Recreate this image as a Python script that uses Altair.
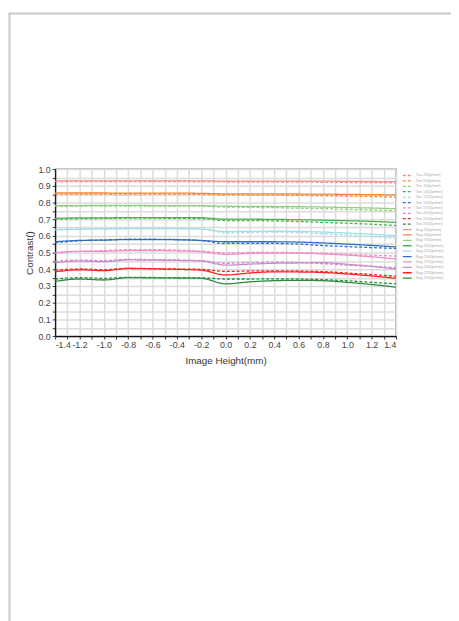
import altair as alt
import pandas as pd

# Image height positions (mm)
heights = [-1.4, -1.2, -1.0, -0.8, -0.6, -0.4, -0.2, 0.0, 0.2, 0.4, 0.6, 0.8, 1.0, 1.2, 1.4]

freqs = [20, 50, 70, 100, 125, 150, 175, 200, 225, 250]
colors = ["#f28e8e", "#f5883a", "#8fd07f", "#4cb050", "#9fdde8",
          "#2e6fbf", "#f08cc8", "#cc88cc", "#ff2020", "#2e8b3e"]

tan_20 = [0.925, 0.925, 0.925, 0.925, 0.925, 0.925, 0.924, 0.923, 0.922, 0.922, 0.922, 0.921, 0.920, 0.919, 0.918]
tan_50 = [0.850, 0.851, 0.851, 0.851, 0.851, 0.850, 0.849, 0.846, 0.845, 0.844, 0.843, 0.841, 0.839, 0.836, 0.832]
tan_70 = [0.777, 0.778, 0.779, 0.779, 0.779, 0.779, 0.778, 0.773, 0.771, 0.769, 0.766, 0.763, 0.759, 0.755, 0.750]
tan_100 = [0.700, 0.703, 0.705, 0.706, 0.706, 0.705, 0.703, 0.692, 0.692, 0.690, 0.686, 0.681, 0.676, 0.670, 0.662]
tan_125 = [0.640, 0.642, 0.644, 0.646, 0.646, 0.645, 0.644, 0.618, 0.620, 0.623, 0.620, 0.613, 0.605, 0.596, 0.587]
tan_150 = [0.560, 0.571, 0.575, 0.580, 0.580, 0.578, 0.572, 0.555, 0.555, 0.555, 0.551, 0.542, 0.536, 0.530, 0.525]
tan_175 = [0.495, 0.508, 0.512, 0.518, 0.518, 0.515, 0.509, 0.498, 0.501, 0.502, 0.500, 0.496, 0.490, 0.485, 0.479]
tan_200 = [0.448, 0.455, 0.452, 0.460, 0.458, 0.456, 0.452, 0.436, 0.440, 0.443, 0.440, 0.434, 0.425, 0.418, 0.410]
tan_225 = [0.395, 0.402, 0.398, 0.406, 0.404, 0.402, 0.400, 0.387, 0.390, 0.391, 0.390, 0.386, 0.378, 0.369, 0.358]
tan_250 = [0.342, 0.350, 0.346, 0.352, 0.351, 0.350, 0.349, 0.342, 0.342, 0.343, 0.342, 0.338, 0.331, 0.322, 0.313]

sag_20 = [0.930, 0.930, 0.930, 0.930, 0.930, 0.930, 0.930, 0.928, 0.928, 0.928, 0.928, 0.928, 0.927, 0.926, 0.925]
sag_50 = [0.857, 0.857, 0.857, 0.856, 0.856, 0.856, 0.855, 0.852, 0.852, 0.852, 0.851, 0.850, 0.849, 0.847, 0.846]
sag_70 = [0.782, 0.782, 0.783, 0.783, 0.782, 0.782, 0.781, 0.778, 0.777, 0.776, 0.775, 0.773, 0.770, 0.767, 0.763]
sag_100 = [0.705, 0.708, 0.708, 0.710, 0.710, 0.710, 0.709, 0.700, 0.700, 0.699, 0.697, 0.694, 0.691, 0.687, 0.681]
sag_125 = [0.635, 0.640, 0.641, 0.643, 0.643, 0.643, 0.641, 0.626, 0.627, 0.628, 0.627, 0.623, 0.617, 0.610, 0.601]
sag_150 = [0.565, 0.573, 0.575, 0.578, 0.578, 0.577, 0.573, 0.565, 0.565, 0.565, 0.563, 0.558, 0.551, 0.543, 0.534]
sag_175 = [0.500, 0.508, 0.508, 0.512, 0.512, 0.510, 0.505, 0.490, 0.495, 0.497, 0.497, 0.492, 0.485, 0.475, 0.462]
sag_200 = [0.440, 0.449, 0.446, 0.456, 0.455, 0.453, 0.450, 0.425, 0.431, 0.436, 0.438, 0.440, 0.430, 0.418, 0.401]
sag_225 = [0.385, 0.397, 0.392, 0.405, 0.403, 0.400, 0.395, 0.366, 0.378, 0.385, 0.384, 0.381, 0.372, 0.360, 0.346]
sag_250 = [0.328, 0.342, 0.336, 0.350, 0.349, 0.348, 0.346, 0.313, 0.325, 0.332, 0.334, 0.332, 0.322, 0.309, 0.293]

tan_series = [tan_20, tan_50, tan_70, tan_100, tan_125, tan_150, tan_175, tan_200, tan_225, tan_250]
sag_series = [sag_20, sag_50, sag_70, sag_100, sag_125, sag_150, sag_175, sag_200, sag_225, sag_250]

names, rows, color_range, dash_range = [], [], [], []
for kind, series_list, dash in (("Tan", tan_series, [3, 2]), ("Sag", sag_series, [1, 0])):
    for f, vals, c in zip(freqs, series_list, colors):
        name = f"{kind} {f}(lp/mm)"
        names.append(name)
        color_range.append(c)
        dash_range.append(dash)
        for x, v in zip(heights, vals):
            rows.append({"series": name, "h": x, "contrast": v})
df = pd.DataFrame(rows)

x_ticks = [round(-1.4 + 0.1 * i, 1) for i in range(29)]
y_ticks = [round(0.05 * i, 2) for i in range(21)]

FONT = "Liberation Sans"
legend = alt.Legend(
    title=None, orient="none", legendX=353, legendY=4,
    symbolType="M-1,0L1,0", symbolSize=81, symbolStrokeWidth=1.3,
    labelFontSize=4, labelColor="#aaaaaa", labelFont=FONT,
    clipHeight=5, rowPadding=0.5, labelOffset=3, padding=0,
)

x_label = "abs(round(datum.value*10)) % 2 == 0 ? (datum.value < -0.01 ? '-' : '') + format(abs(datum.value), '.1f') : ''"
y_label = "abs(round(datum.value*20)) % 2 == 0 ? format(abs(datum.value), '.1f') : ''"

lines = alt.Chart(df).mark_line(strokeWidth=1.3, clip=True, interpolate="monotone").encode(
    x=alt.X("h:Q", scale=alt.Scale(domain=[-1.4, 1.4], nice=False, zero=False),
            axis=alt.Axis(values=x_ticks, title="Image Height(mm)", labelExpr=x_label,
                          labelOverlap=False)),
    y=alt.Y("contrast:Q", scale=alt.Scale(domain=[0, 1], nice=False),
            axis=alt.Axis(values=y_ticks, title="Contrast()", labelExpr=y_label,
                          labelOverlap=False)),
    color=alt.Color("series:N", scale=alt.Scale(domain=names, range=color_range), legend=legend),
    strokeDash=alt.StrokeDash("series:N", scale=alt.Scale(domain=names, range=dash_range), legend=legend),
)

frame_df = pd.DataFrame({"a": [0]})
frame_left = alt.Chart(frame_df).mark_rule(color="#c8c8c8", strokeWidth=2).encode(
    x=alt.value(-46.5), y=alt.value(-159), y2=alt.value(500))
frame_top = alt.Chart(frame_df).mark_rule(color="#c8c8c8", strokeWidth=2).encode(
    x=alt.value(-47.5), x2=alt.value(420), y=alt.value(-158.5))

chart = alt.layer(frame_left, frame_top, lines).properties(
    width=347, height=170,
    autosize=alt.AutoSizeParams(type="none"),
    padding={"left": 48, "top": 158.5, "right": 56, "bottom": 284},
    background="white",
).configure_axis(
    grid=True, gridColor="#dcdcdc", gridWidth=1.5,
    domainColor="#111111", domainWidth=1.2,
    tickColor="#333333", tickSize=3,
    labelFont=FONT, labelFontSize=9, labelColor="#444444",
    titleFont=FONT, titleFontSize=10, titleFontWeight="normal", titleColor="#333333",
).configure_axisX(titlePadding=6, labelPadding=2).configure_axisY(titlePadding=4, labelPadding=2).configure_view(
    stroke="#222222", strokeWidth=1.2
)

chart.save("out.html", embed_options={"renderer": "svg", "actions": False})
